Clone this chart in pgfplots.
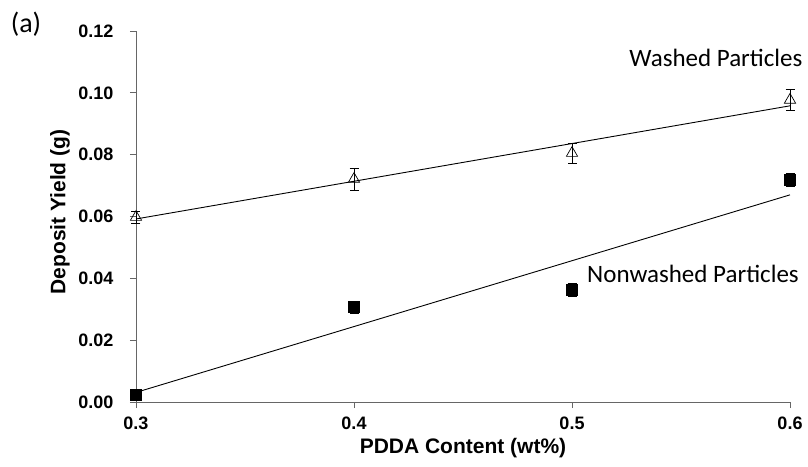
\documentclass[border=0pt]{standalone}
\usepackage{fontspec}
\setmainfont{Liberation Sans}
\newfontfamily\calibri{Carlito}
\usepackage{pgfplots}
\pgfplotsset{compat=1.18}
\begin{document}
\begin{tikzpicture}
\path[use as bounding box] (-136pt,-64pt) rectangle (672pt,402pt);
\begin{axis}[
  at={(0pt,0pt)}, anchor=origin,
  scale only axis, width=654pt, height=371pt,
  xmin=0.3, xmax=0.6, ymin=0, ymax=0.12,
  axis x line*=bottom, axis y line*=left,
  axis line style={gray!80!black, line width=0.9pt},
  xtick={0.3,0.4,0.5,0.6}, ytick={0,0.02,0.04,0.06,0.08,0.1,0.12},
  xticklabels={0.3,0.4,0.5,0.6},
  yticklabels={0.00,0.02,0.04,0.06,0.08,0.10,0.12},
  tick align=outside, major tick length=6pt,
  tick style={gray!80!black, line width=0.9pt},
  tick label style={font=\fontsize{18}{20}\selectfont\bfseries},
  xticklabel style={yshift=-5pt},
  yticklabel style={xshift=-13pt},
  xlabel={PDDA Content (wt\%)},
  xlabel style={font=\fontsize{21}{23}\selectfont\bfseries, at={(axis description cs:0.5,0)}, anchor=center, yshift=-46pt},
  clip=false,
]
% fit lines
\addplot[black, line width=0.9pt] coordinates {(0.3,0.0592) (0.6,0.0958)};
\addplot[black, line width=0.9pt] coordinates {(0.3,0.0031) (0.6,0.0670)};
% washed
\addplot[black, only marks, mark=triangle, mark size=6.5pt, mark options={line width=0.7pt, fill=white},
  error bars/.cd, y dir=both, y explicit, error mark options={rotate=90, mark size=4.5pt, line width=0.8pt}, error bar style={line width=0.8pt}]
  coordinates {(0.3,0.0598) +- (0,0.002) (0.4,0.0721) +- (0,0.0035) (0.5,0.0805) +- (0,0.0032) (0.6,0.0977) +- (0,0.0035)};
% nonwashed
\addplot[black, only marks, mark=square*, mark size=5.5pt,
  error bars/.cd, y dir=both, y explicit, error mark options={rotate=90, mark size=4.5pt, line width=0.8pt}, error bar style={line width=0.8pt}]
  coordinates {(0.3,0.0023) +- (0,0.001) (0.4,0.0307) +- (0,0.002) (0.5,0.0362) +- (0,0.002) (0.6,0.0718) +- (0,0.002)};
\node[anchor=center, font=\calibri\fontsize{25}{28}\selectfont] at (axis cs:0.566,0.1113) {Washed Particles};
\node[anchor=center, font=\calibri\fontsize{25}{28}\selectfont] at (axis cs:0.5555,0.0414) {Nonwashed Particles};
\end{axis}
\node[anchor=center, rotate=90, font=\fontsize{21}{23}\selectfont\bfseries] at (-76pt,190pt) {Deposit Yield (g)};
\node[anchor=center, font=\calibri\fontsize{28}{30}\selectfont] at (-110pt,378pt) {(a)};
\end{tikzpicture}
\end{document}
